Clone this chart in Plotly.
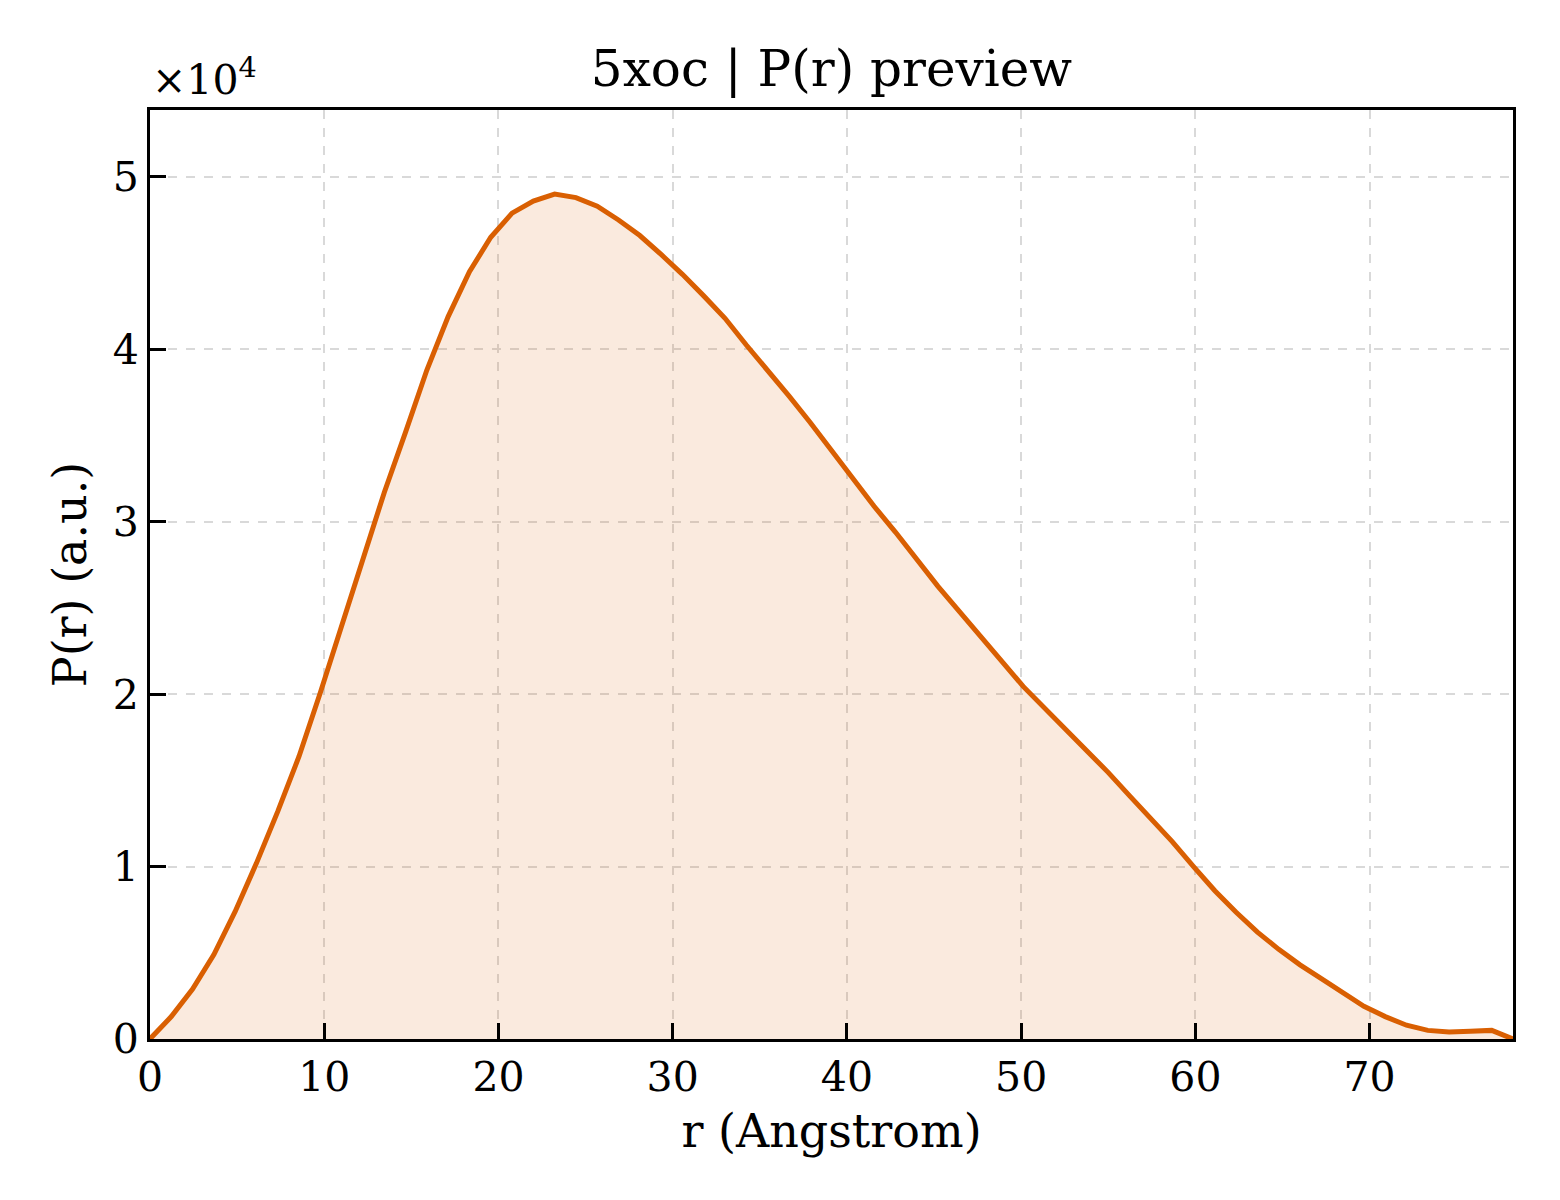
import numpy as np
import plotly.graph_objects as go

# ---- data ----
r_max = 78.23
n_points = 65
r_values = [i * r_max / (n_points - 1) for i in range(n_points)]
p_values_e4 = [
    0.00, 0.13, 0.29, 0.49, 0.74, 1.02, 1.32, 1.64, 2.01, 2.40,
    2.79, 3.17, 3.52, 3.88, 4.19, 4.45, 4.65, 4.79, 4.86, 4.90,
    4.88, 4.83, 4.75, 4.66, 4.55, 4.435, 4.31, 4.18, 4.025, 3.88,
    3.73, 3.576, 3.41, 3.25, 3.09, 2.94, 2.78, 2.625, 2.48, 2.34,
    2.19, 2.045, 1.92, 1.80, 1.675, 1.545, 1.41, 1.28, 1.145, 1.00,
    0.86, 0.735, 0.62, 0.52, 0.43, 0.35, 0.27, 0.19, 0.13, 0.08,
    0.05, 0.04, 0.045, 0.05, 0.0,
]
p_values = [v * 1e4 for v in p_values_e4]

x_tick_vals = [0, 10, 20, 30, 40, 50, 60, 70]
y_tick_vals = [0, 10000, 20000, 30000, 40000, 50000]
y_tick_text = ["0", "1", "2", "3", "4", "5"]

title_text = "5xoc | P(r) preview"
x_label = "r (Angstrom)"
y_label = "P(r) (a.u.)"
scale_label = "×10<sup>4</sup>"

LINE = "#D95F02"
FILL = "rgba(217,95,2,0.13)"
FONT = "DejaVu Serif"

fig = go.Figure()
fig.add_trace(go.Scatter(
    x=r_values, y=p_values, mode="lines",
    line=dict(color=LINE, width=5),
    fill="tozeroy", fillcolor=FILL,
    showlegend=False,
))

axis_common = dict(
    showline=True, linecolor="black", linewidth=3, mirror=True,
    ticks="inside", ticklen=16, tickwidth=3, tickcolor="black",
    showgrid=True, gridcolor="#d9d9d9", gridwidth=1.5, griddash="dash",
    zeroline=False,
    tickfont=dict(family=FONT, size=41, color="black"),
)

fig.update_xaxes(
    range=[0, r_max], tickvals=x_tick_vals,
    title=dict(text=x_label, font=dict(family=FONT, size=46, color="black"), standoff=15),
    **axis_common,
)
fig.update_yaxes(
    range=[0, 53880], tickvals=y_tick_vals, ticktext=y_tick_text,
    title=dict(text=y_label, font=dict(family=FONT, size=46, color="black"), standoff=12),
    **axis_common,
)

fig.add_annotation(
    text=scale_label, xref="paper", yref="paper", x=0.0, y=1.0,
    xanchor="left", yanchor="bottom", showarrow=False, yshift=4,
    font=dict(family=FONT, size=41, color="black"),
)

# page has an 8px body margin, so the figure is 8px smaller than the window
W, H = 1552, 1192
fig.update_layout(
    width=W, height=H,
    margin=dict(l=142, r=47, t=102, b=161),
    paper_bgcolor="white", plot_bgcolor="white",
    title=dict(text=title_text, x=0.5, xref="paper", y=1 - 60 / H, yanchor="middle",
               font=dict(family=FONT, size=50, color="black")),
    font=dict(family=FONT, color="black"),
)

fig.write_html("out.html")
